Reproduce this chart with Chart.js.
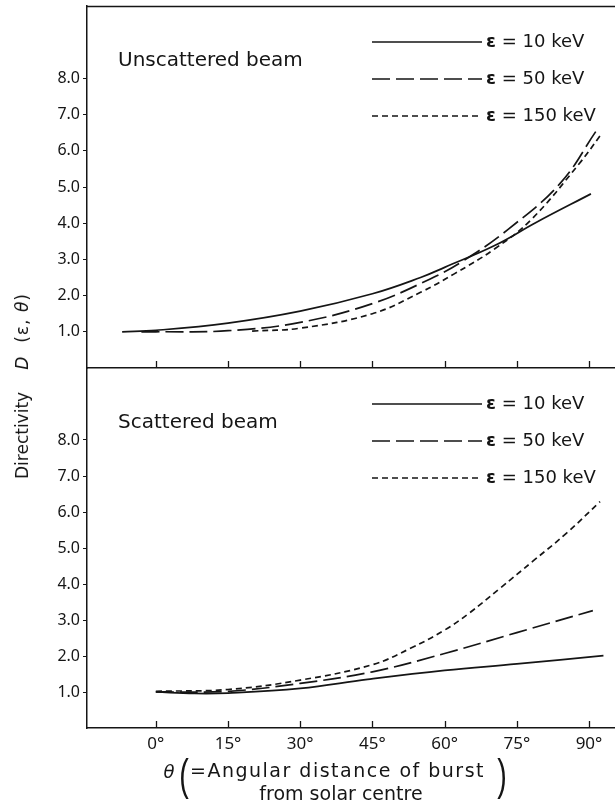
<!DOCTYPE html>
<html>
<head>
<meta charset="utf-8">
<script src="https://cdn.jsdelivr.net/npm/chart.js@4.4.1/dist/chart.umd.min.js"></script>
<style>
html,body{margin:0;padding:0;background:#fff;overflow:hidden;width:615px;height:808px;}
#top{position:absolute;left:0;top:0;width:615px;height:372px;}
#bot{position:absolute;left:0;top:362px;width:615px;height:446px;}
#ytitle{position:absolute;left:22px;top:386px;transform:translate(-50%,-50%) rotate(-90deg);white-space:nowrap;font:17px "DejaVu Sans";color:#151515;}
#ytitle .d{margin-left:22px;font-style:italic;}
#ytitle .arg{margin-left:14px;letter-spacing:1px;}
#ytitle .th{font-style:italic;}
</style>
</head>
<body>
<div id="top"><canvas id="cTop"></canvas></div>
<div id="bot"><canvas id="cBot"></canvas></div>
<div id="ytitle"><span>Directivity</span><span class="d">D</span><span class="arg">(ε, <span class="th">θ</span>)</span></div>
<script>
// ---- data ----
const seriesNames = ['ε = 10 keV', 'ε = 50 keV', 'ε = 150 keV'];
const panelTitles = ['Unscattered beam', 'Scattered beam'];
const xTickValues = [0, 15, 30, 45, 60, 75, 90];
const yTickValues = [1, 2, 3, 4, 5, 6, 7, 8];
const xTitleSymbol = 'θ';
const xTitleLine1 = '=Angular distance of burst';
const xTitleLine2 = 'from solar centre';

// Unscattered beam
const unsc10Theta  = [-7, 0, 15, 30, 45, 55, 60, 70.5, 79, 90.4];
const unsc10D      = [1.0, 1.04, 1.24, 1.57, 2.05, 2.5, 2.78, 3.39, 4.02, 4.81];
const unsc50Theta  = [-3, 0, 15, 30, 45, 57, 64, 73, 84, 91.5];
const unsc50D      = [1.0, 1.0, 1.03, 1.26, 1.78, 2.46, 2.97, 3.81, 5.1, 6.55];
const unsc150Theta = [20, 30, 45, 55, 62, 70.5, 78, 88, 92.5];
const unsc150D     = [1.02, 1.1, 1.5, 2.09, 2.6, 3.3, 4.1, 5.65, 6.45];

// Scattered beam
const sc10Theta  = [0, 8, 15, 30, 44, 60, 75, 93];
const sc10D      = [1.0, 0.96, 0.97, 1.1, 1.35, 1.6, 1.78, 2.01];
const sc50Theta  = [0, 15, 30, 45, 60, 75, 90.8];
const sc50D      = [1.0, 1.02, 1.24, 1.56, 2.07, 2.65, 3.26];
const sc150Theta = [0, 15, 30, 45, 53, 60, 65, 71.5, 78.4, 85.4, 92.3];
const sc150D     = [1.02, 1.07, 1.33, 1.76, 2.22, 2.72, 3.18, 3.88, 4.64, 5.42, 6.29];

// ---- styling ----
const INK = '#151515';
const FONT = '"DejaVu Sans"';
const dashes = [[], [18, 6], [6, 4]];
const X_MIN = -14.3, X_MAX = 95.4, Y_MIN = 0, Y_MAX = 10;

const toPts = (xs, ys) => xs.map((x, i) => ({x: x, y: ys[i]}));
function makeDatasets(sets) {
  return sets.map((s, i) => ({
    label: seriesNames[i],
    data: toPts(s[0], s[1]),
    borderColor: INK,
    borderWidth: 1.7,
    borderDash: dashes[i],
    pointRadius: 0,
    fill: false,
    tension: 0.4
  }));
}

const decorPlugin = {
  id: 'decor',
  afterDraw(chart, args, opts) {
    const {ctx, chartArea: a, scales: {x}} = chart;
    ctx.save();
    ctx.strokeStyle = INK;
    ctx.fillStyle = INK;
    // inward tick marks on the x axis
    ctx.lineWidth = 1.3;
    xTickValues.forEach(v => {
      const px = Math.round(x.getPixelForValue(v)) + 0.5;
      ctx.beginPath();
      ctx.moveTo(px, a.bottom);
      ctx.lineTo(px, a.bottom - 7);
      ctx.stroke();
    });
    // top frame line
    if (opts.topBorder) {
      ctx.lineWidth = 1.5;
      ctx.beginPath();
      ctx.moveTo(a.left, a.top + 0.5);
      ctx.lineTo(a.right, a.top + 0.5);
      ctx.stroke();
    }
    // panel title
    ctx.font = '20px ' + FONT;
    ctx.textBaseline = 'middle';
    ctx.textAlign = 'left';
    ctx.fillText(opts.title, a.left + 31, a.top + 55);
    // legend
    chart.data.datasets.forEach((ds, i) => {
      const y = a.top + 36 + i * 37;
      ctx.lineWidth = 1.7;
      ctx.setLineDash(ds.borderDash);
      ctx.beginPath();
      ctx.moveTo(a.left + 285, y);
      ctx.lineTo(a.left + 395, y);
      ctx.stroke();
      ctx.setLineDash([]);
      const eps = ds.label.charAt(0);
      const rest = ds.label.slice(1);
      ctx.font = 'bold 18px ' + FONT;
      ctx.fillText(eps, a.left + 399, y);
      const w = ctx.measureText(eps).width;
      ctx.font = '18px ' + FONT;
      ctx.fillText(rest, a.left + 399 + w, y);
    });
    // x axis title
    if (opts.xTitle) {
      const b = a.bottom;
      ctx.textAlign = 'center';
      ctx.font = 'italic 18px ' + FONT;
      ctx.fillText(xTitleSymbol, 169, b + 45);
      ['(', ')'].forEach((p, k) => {
        ctx.save();
        ctx.font = '44px "Liberation Sans"';
        ctx.translate(k === 0 ? 184 : 502, b + 50);
        ctx.scale(0.65, 1);
        ctx.fillText(p, 0, 0);
        ctx.restore();
      });
      ctx.font = '19px ' + FONT;
      ctx.textAlign = 'left';
      ctx.letterSpacing = '1.5px';
      ctx.fillText(xTitleLine1, 190, b + 44);
      ctx.letterSpacing = '0px';
      ctx.textAlign = 'center';
      ctx.fillText(xTitleLine2, 341, b + 67);
    }
    ctx.restore();
  }
};

function makeOptions(isBottom, title) {
  return {
    responsive: true,
    maintainAspectRatio: false,
    animation: false,
    layout: {padding: {top: 6, right: 0, bottom: 0, left: 0}},
    plugins: {
      legend: {display: false},
      tooltip: {enabled: false},
      decor: {title: title, topBorder: !isBottom, xTitle: isBottom}
    },
    scales: {
      x: {
        type: 'linear',
        min: X_MIN,
        max: X_MAX,
        afterBuildTicks: s => { s.ticks = xTickValues.map(v => ({value: v})); },
        afterFit: s => {
          s.height = isBottom ? 80 : 4;
          s.paddingLeft = 0; s.paddingRight = 0; s.paddingTop = 0; s.paddingBottom = 0;
        },
        ticks: {
          display: isBottom,
          color: INK,
          padding: 6,
          maxRotation: 0,
          autoSkip: false,
          font: {family: 'Noto Sans', size: 17},
          callback: v => v + '°'
        },
        grid: {drawOnChartArea: false, drawTicks: false},
        border: {display: true, color: INK, width: 1.5}
      },
      y: {
        type: 'linear',
        min: Y_MIN,
        max: Y_MAX,
        afterBuildTicks: s => { s.ticks = yTickValues.map(v => ({value: v})); },
        afterFit: s => {
          s.width = 87;
          s.paddingLeft = 0; s.paddingRight = 0; s.paddingTop = 0; s.paddingBottom = 0;
        },
        ticks: {
          color: INK,
          padding: 3,
          font: {family: 'Noto Sans', size: 16},
          callback: v => Number(v).toFixed(1)
        },
        grid: {drawOnChartArea: false, drawTicks: true, tickLength: 4, color: INK, lineWidth: 1},
        border: {display: true, color: INK, width: 1.5}
      }
    }
  };
}

new Chart(document.getElementById('cTop'), {
  type: 'line',
  data: {datasets: makeDatasets([[unsc10Theta, unsc10D], [unsc50Theta, unsc50D], [unsc150Theta, unsc150D]])},
  options: makeOptions(false, panelTitles[0]),
  plugins: [decorPlugin]
});

new Chart(document.getElementById('cBot'), {
  type: 'line',
  data: {datasets: makeDatasets([[sc10Theta, sc10D], [sc50Theta, sc50D], [sc150Theta, sc150D]])},
  options: makeOptions(true, panelTitles[1]),
  plugins: [decorPlugin]
});
</script>
</body>
</html>
